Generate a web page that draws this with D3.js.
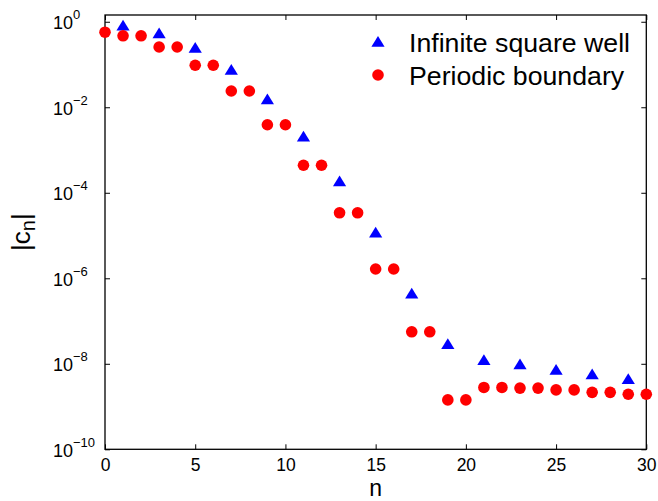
<!DOCTYPE html>
<html><head><meta charset="utf-8">
<script src="https://cdn.jsdelivr.net/npm/d3@7"></script>
<style>body{margin:0;background:#fff}svg{display:block}text{font-family:"Liberation Sans",Arial,sans-serif;fill:#000}</style>
</head><body><svg id="c" width="658" height="501"></svg>
<script>
const nSquare = [1,3,5,7,9,11,13,15,17,19,21,23,25,27,29];
const cSquare = [0.83,0.55,0.25,0.077,0.0156,2.1e-3,1.9e-4,1.2e-5,4.5e-7,2.95e-8,1.25e-8,9.9e-9,7.4e-9,5.8e-9,4.5e-9];
const nPeriodic = [0,1,2,3,4,5,6,7,8,9,10,11,12,13,14,15,16,17,18,19,20,21,22,23,24,25,26,27,28,29,30];
const cPeriodic = [0.57,0.47,0.47,0.257,0.257,0.096,0.096,0.024,0.024,3.9e-3,3.9e-3,4.4e-4,4.4e-4,3.4e-5,3.4e-5,1.65e-6,1.65e-6,5.6e-8,5.6e-8,1.43e-9,1.43e-9,2.8e-9,2.8e-9,2.7e-9,2.7e-9,2.45e-9,2.45e-9,2.15e-9,2.15e-9,1.94e-9,1.94e-9];
const xTicks = [0,5,10,15,20,25,30];
const yTickExp = [0,-2,-4,-6,-8,-10];
const legendLabels = ["Infinite square well","Periodic boundary"];

const svg = d3.select("#c");
const L=105, R=646.3, T=15, B=449.3;
const x = d3.scaleLinear().domain([0,30]).range([L,R]);
const y = d3.scaleLog().domain([1e-10, Math.pow(10,0.158)]).range([B,T]);

// box
svg.append("rect").attr("x",L).attr("y",T).attr("width",R-L).attr("height",B-T)
  .attr("fill","none").attr("stroke","#000").attr("stroke-width",1.3);

// x axis bottom
const gx = svg.append("g").attr("transform",`translate(0,${B})`)
  .call(d3.axisBottom(x).tickValues(xTicks).tickSizeInner(-5).tickSizeOuter(0).tickPadding(9));
gx.select(".domain").remove();
gx.selectAll("text").attr("font-size",17.5).attr("font-family","Liberation Sans, Arial, sans-serif").attr("dy","0.75em");
gx.selectAll("line").attr("stroke","#000");
// x axis top
const gxt = svg.append("g").attr("transform",`translate(0,${T})`)
  .call(d3.axisTop(x).tickValues(xTicks).tickSizeInner(-5).tickSizeOuter(0).tickFormat(""));
gxt.select(".domain").remove();

// y axis left / right
const yVals = yTickExp.map(e=>Math.pow(10,e));
const gy = svg.append("g").attr("transform",`translate(${L},0)`)
  .call(d3.axisLeft(y).tickValues(yVals).tickSizeInner(-5).tickSizeOuter(0).tickFormat(""));
gy.select(".domain").remove();
const gyr = svg.append("g").attr("transform",`translate(${R},0)`)
  .call(d3.axisRight(y).tickValues(yVals).tickSizeInner(-5).tickSizeOuter(0).tickFormat(""));
gyr.select(".domain").remove();

yTickExp.forEach(e=>{
  const t = svg.append("text").attr("x",53).attr("y",y(Math.pow(10,e))+7.5).attr("font-size",18);
  t.append("tspan").text("10");
  t.append("tspan").attr("dy",-10).attr("font-size",13).text(e===0?"0":"\u2212"+(-e));
});

// labels
svg.append("text").attr("x",(L+R)/2).attr("y",496).attr("text-anchor","middle").attr("font-size",23).text("n");
const yl = svg.append("text").attr("transform",`translate(30,${(T+B)/2}) rotate(-90)`).attr("text-anchor","middle").attr("font-size",26);
yl.append("tspan").text("|c");
yl.append("tspan").attr("font-size",20).attr("dy",5).text("n");
yl.append("tspan").attr("dy",-5).text("|");

// markers
const triPath = (cx,cy)=>`M${cx},${cy-5.4}L${cx+6.6},${cy+5.3}L${cx-6.6},${cy+5.3}Z`;
svg.append("g").selectAll("path").data(nSquare.map((n,i)=>[n,cSquare[i]])).join("path")
  .attr("d",d=>triPath(x(d[0]),y(d[1]))).attr("fill","#0000ff");
svg.append("g").selectAll("circle").data(nPeriodic.map((n,i)=>[n,cPeriodic[i]])).join("circle")
  .attr("cx",d=>x(d[0])).attr("cy",d=>y(d[1])).attr("r",5.8).attr("fill","#ff0000");

// legend
svg.append("path").attr("d",triPath(378,41.5)).attr("fill","#0000ff");
svg.append("circle").attr("cx",378).attr("cy",75).attr("r",5.8).attr("fill","#ff0000");
svg.append("text").attr("x",409).attr("y",52.3).attr("font-size",26.7).text(legendLabels[0]);
svg.append("text").attr("x",409).attr("y",85).attr("font-size",26.7).text(legendLabels[1]);
</script></body></html>
